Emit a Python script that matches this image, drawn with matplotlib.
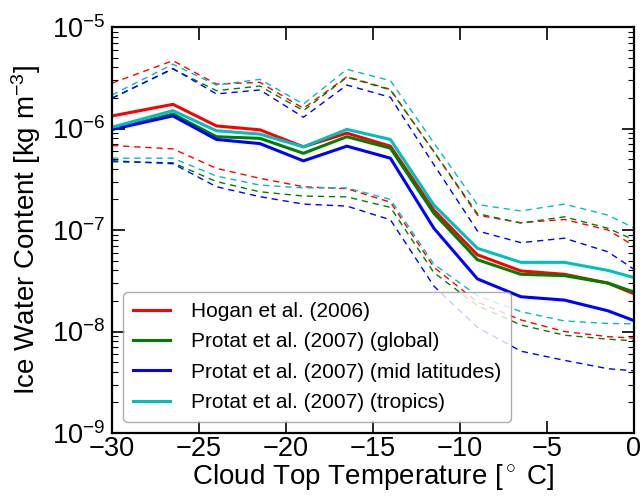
import numpy as np
import matplotlib
matplotlib.use("Agg")
import matplotlib.pyplot as plt

plt.rcParams['font.family'] = ['Liberation Sans', 'DejaVu Sans']
plt.rcParams['mathtext.fontset'] = 'custom'
plt.rcParams['mathtext.rm'] = 'Liberation Sans'
plt.rcParams['mathtext.it'] = 'Liberation Sans:italic'
plt.rcParams['mathtext.bf'] = 'Liberation Sans:bold'

# cloud top temperature (deg C)
temp = [-30, -26.5, -24, -21.5, -19, -16.5, -14, -11.5, -9, -6.5, -4, -1.5, 0]

# Hogan et al. (2006)
hogan_mean = [1.33e-6, 1.73e-6, 1.06e-6, 9.7e-7, 6.6e-7, 9.0e-7, 6.7e-7, 1.57e-7, 5.7e-8, 3.95e-8, 3.66e-8, 3.0e-8, 2.35e-8]
hogan_hi = [2.8e-6, 4.66e-6, 2.74e-6, 2.85e-6, 1.58e-6, 3.24e-6, 2.43e-6, 5.9e-7, 1.4e-7, 1.18e-7, 1.27e-7, 1.0e-7, 7.0e-8]
hogan_lo = [6.8e-7, 6.3e-7, 4.05e-7, 3.23e-7, 2.67e-7, 2.55e-7, 1.88e-7, 4.3e-8, 1.95e-8, 1.3e-8, 1.0e-8, 8.9e-9, 8.6e-9]

# Protat et al. (2007) global
glob_mean = [9.8e-7, 1.39e-6, 8.3e-7, 8.0e-7, 5.7e-7, 8.3e-7, 6.4e-7, 1.46e-7, 5.1e-8, 3.66e-8, 3.55e-8, 3.0e-8, 2.45e-8]
glob_hi = [2.0e-6, 3.85e-6, 2.36e-6, 2.62e-6, 1.5e-6, 3.2e-6, 2.4e-6, 5.9e-7, 1.45e-7, 1.17e-7, 1.35e-7, 1.04e-7, 8.0e-8]
glob_lo = [4.7e-7, 4.6e-7, 3.0e-7, 2.38e-7, 2.16e-7, 2.12e-7, 1.67e-7, 3.8e-8, 1.8e-8, 1.16e-8, 9.2e-9, 8.4e-9, 8.1e-9]

# Protat et al. (2007) mid latitudes
mid_mean = [9.8e-7, 1.33e-6, 7.8e-7, 7.1e-7, 4.8e-7, 6.7e-7, 5.1e-7, 1.04e-7, 3.3e-8, 2.2e-8, 2.04e-8, 1.6e-8, 1.28e-8]
mid_hi = [1.98e-6, 3.9e-6, 2.19e-6, 2.4e-6, 1.29e-6, 2.68e-6, 2.03e-6, 4.4e-7, 9.8e-8, 7.5e-8, 8.3e-8, 6.1e-8, 4.1e-8]
mid_lo = [4.8e-7, 4.5e-7, 2.67e-7, 2.13e-7, 1.8e-7, 1.72e-7, 1.26e-7, 2.8e-8, 1.1e-8, 6.4e-9, 5.2e-9, 4.3e-9, 4.1e-9]

# Protat et al. (2007) tropics
trop_mean = [1.03e-6, 1.5e-6, 9.5e-7, 8.8e-7, 6.6e-7, 9.8e-7, 7.8e-7, 1.76e-7, 6.6e-8, 4.8e-8, 4.8e-8, 4.0e-8, 3.4e-8]
trop_hi = [2.14e-6, 4.3e-6, 2.68e-6, 3.05e-6, 1.74e-6, 3.83e-6, 2.96e-6, 7.2e-7, 1.78e-7, 1.54e-7, 1.8e-7, 1.4e-7, 1.05e-7]
trop_lo = [5.1e-7, 5.1e-7, 3.4e-7, 2.77e-7, 2.6e-7, 2.6e-7, 2.0e-7, 4.6e-8, 2.25e-8, 1.57e-8, 1.27e-8, 1.2e-8, 1.19e-8]

labels = ["Hogan et al. (2006)", "Protat et al. (2007) (global)",
          "Protat et al. (2007) (mid latitudes)", "Protat et al. (2007) (tropics)"]
colors = ['r', 'g', 'b', 'c']
series = [(hogan_mean, hogan_hi, hogan_lo), (glob_mean, glob_hi, glob_lo),
          (mid_mean, mid_hi, mid_lo), (trop_mean, trop_hi, trop_lo)]

fig = plt.figure(figsize=(6.42, 5.0), dpi=100)
ax = fig.add_axes([0.1745, 0.134, 0.813, 0.812])

for (m, hi, lo), c in zip(series, colors):
    ax.plot(temp, hi, '--', color=c, lw=1.0, dashes=(4.5, 3.5))
    ax.plot(temp, lo, '--', color=c, lw=1.0, dashes=(4.5, 3.5))
for (m, hi, lo), c, lab in zip(series, colors, labels):
    ax.plot(temp, m, '-', color=c, lw=2.2, label=lab)

ax.set_yscale('log')
ax.set_xlim(-30, 0)
ax.set_ylim(1e-9, 1e-5)
ax.set_xticks([-30, -25, -20, -15, -10, -5, 0])
ax.set_xticklabels(['\u221230', '\u221225', '\u221220', '\u221215', '\u221210', '\u22125', '0'])

ax.tick_params(which='both', direction='in', top=True, right=True, labelsize=19.5)
ax.tick_params(axis='x', pad=2)
ax.tick_params(axis='y', pad=5)
ax.tick_params(which='major', length=9, width=1.2)
ax.tick_params(which='minor', length=4.5, width=0.8)
ax.tick_params(axis='x', which='minor', top=False, bottom=False)
for s in ax.spines.values():
    s.set_linewidth(1.6)

ax.set_xlabel('Cloud Top Temperature [$^\\circ$ C]', fontsize=20, labelpad=0)
ax.set_ylabel('Ice Water Content [kg m$^{-3}$]', fontsize=20, labelpad=6)

leg = ax.legend(loc='lower left', fontsize=15, handlelength=1.8, handletextpad=1.0,
                labelspacing=0.55, borderaxespad=0.55, borderpad=0.45,
                framealpha=0.8, fancybox=True)
leg.get_frame().set_edgecolor('0.6')

fig.savefig('out.png', dpi=100)
